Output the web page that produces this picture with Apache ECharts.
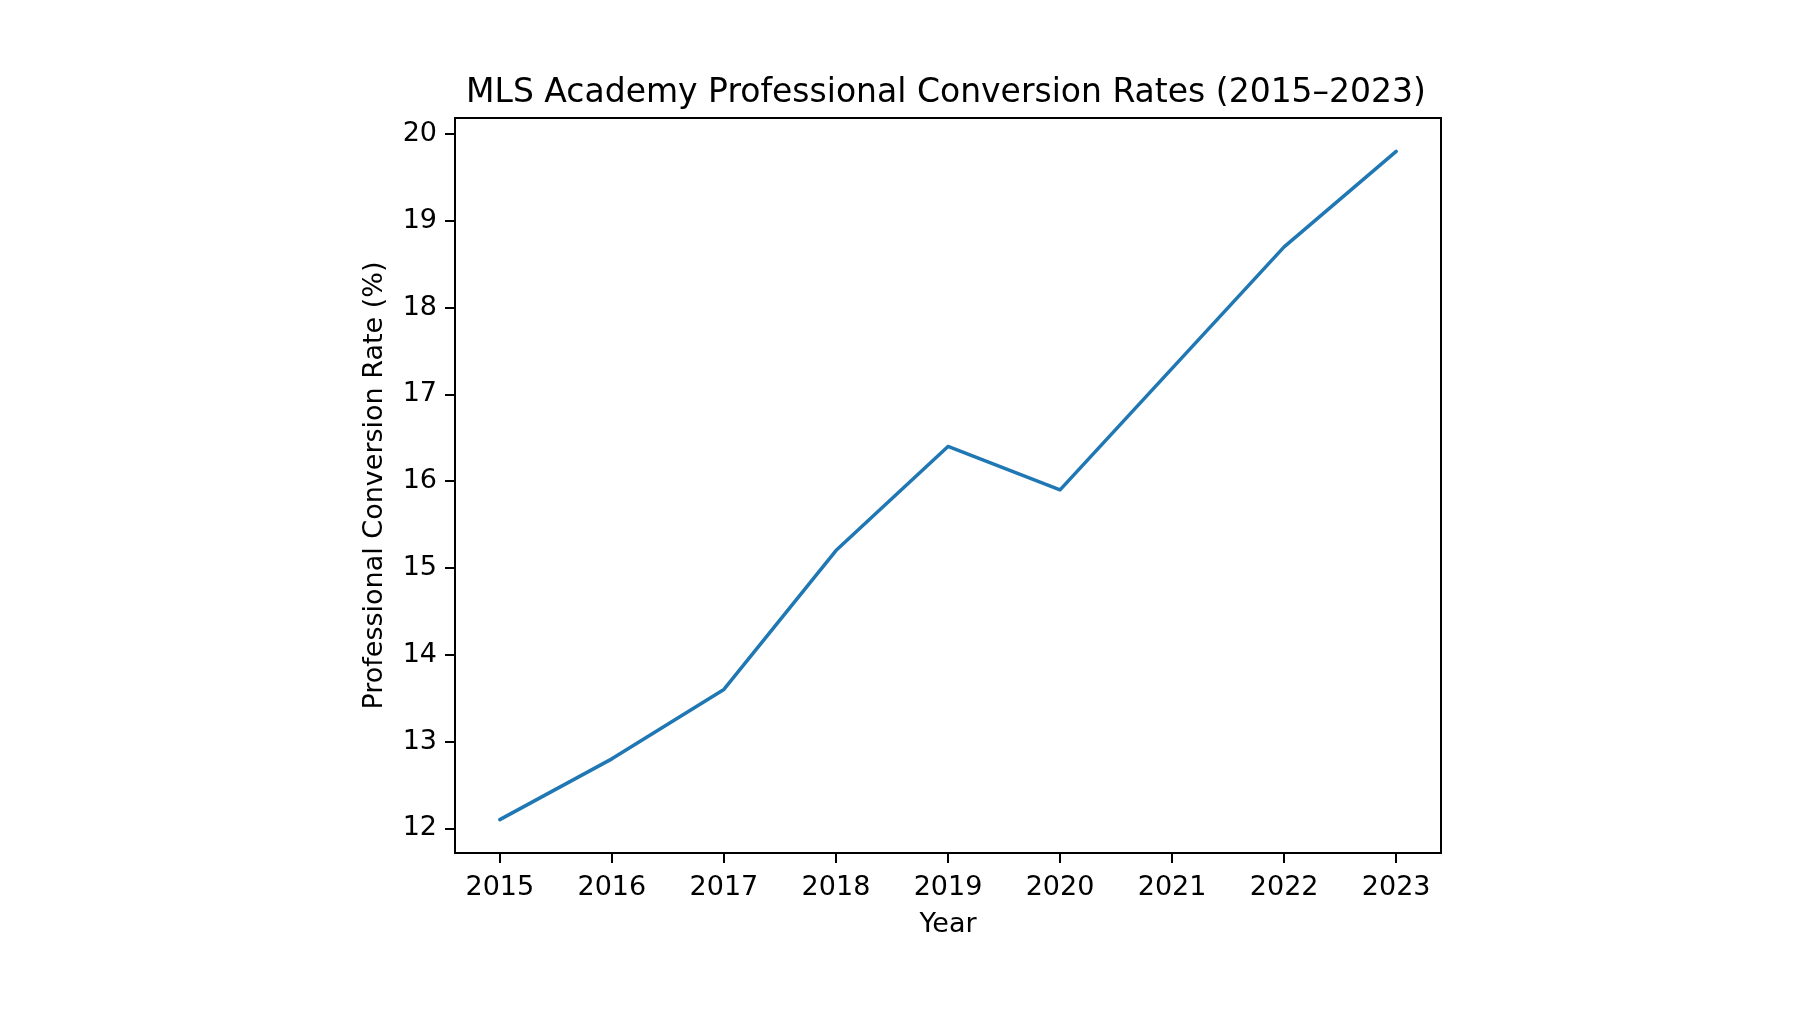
<!DOCTYPE html>
<html>
<head>
<meta charset="utf-8">
<script src="https://cdn.jsdelivr.net/npm/echarts@6/dist/echarts.min.js"></script>
<style>html,body{margin:0;padding:0;background:#fff;}#c{width:1800px;height:1013px;}</style>
</head>
<body>
<div id="c"></div>
<script>
const years = [2015, 2016, 2017, 2018, 2019, 2020, 2021, 2022, 2023];
const rates = [12.1, 12.8, 13.6, 15.2, 16.4, 15.9, 17.3, 18.7, 19.8];
const yTicks = [12, 13, 14, 15, 16, 17, 18, 19, 20];
const titleText = 'MLS Academy Professional Conversion Rates (2015–2023)';

const xMin = 2015 - 0.05 * (2023 - 2015);
const xMax = 2023 + 0.05 * (2023 - 2015);
const dMin = Math.min(...rates), dMax = Math.max(...rates);
const yMin = dMin - 0.05 * (dMax - dMin);
const yMax = dMax + 0.05 * (dMax - dMin);

const font = 'DejaVu Sans';
const chart = echarts.init(document.getElementById('c'), null, {renderer: 'canvas'});
chart.setOption({
  animation: false,
  backgroundColor: '#fff',
  title: {
    text: titleText,
    left: 941, top: 72, textAlign: 'center',
    textStyle: {fontFamily: font, fontSize: 33, fontWeight: 'normal', color: '#000'}
  },
  grid: {
    left: 455, right: 359, top: 118, bottom: 160,
    show: true, borderColor: '#000', borderWidth: 2, backgroundColor: 'transparent'
  },
  xAxis: {
    type: 'value', min: xMin, max: xMax,
    name: 'Year', nameLocation: 'middle', nameGap: 58,
    nameTextStyle: {fontFamily: font, fontSize: 27, color: '#000'},
    axisLine: {show: true, onZero: false, lineStyle: {color: '#000', width: 2}},
    axisTick: {show: true, length: 10, lineStyle: {color: '#000', width: 2}, customValues: years},
    axisLabel: {show: true, margin: 21, fontFamily: font, fontSize: 27, color: '#000', customValues: years,
      formatter: v => String(v)},
    splitLine: {show: false}
  },
  yAxis: {
    type: 'value', min: yMin, max: yMax,
    name: 'Professional Conversion Rate (%)', nameLocation: 'middle', nameGap: 67,
    nameTextStyle: {fontFamily: font, fontSize: 27, color: '#000'},
    axisLine: {show: true, onZero: false, lineStyle: {color: '#000', width: 2}},
    axisTick: {show: true, length: 10, lineStyle: {color: '#000', width: 2}, customValues: yTicks},
    axisLabel: {show: true, margin: 18, fontFamily: font, fontSize: 27, color: '#000', customValues: yTicks,
      formatter: v => String(v)},
    splitLine: {show: false}
  },
  series: [{
    type: 'line',
    data: years.map((y, i) => [y, rates[i]]),
    showSymbol: false, symbol: 'none',
    lineStyle: {color: '#1f77b4', width: 3.5, cap: 'round', join: 'round'},
    itemStyle: {color: '#1f77b4'}
  }]
});
</script>
</body>
</html>
